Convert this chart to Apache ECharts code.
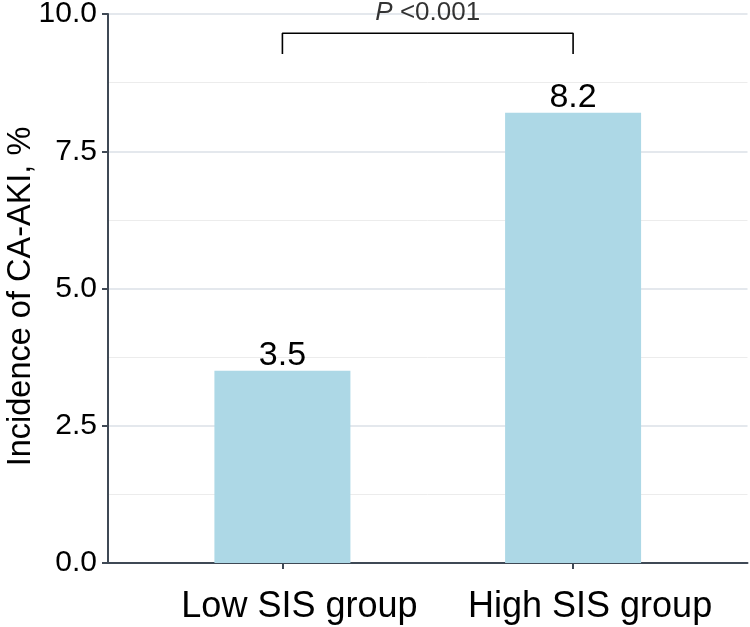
<!DOCTYPE html>
<html>
<head>
<meta charset="utf-8">
<script src="https://cdn.jsdelivr.net/npm/echarts@6/dist/echarts.min.js"></script>
<style>
html,body{margin:0;padding:0;background:#fff;}
#chart{width:750px;height:627px;}
</style>
</head>
<body>
<div id="chart"></div>
<script>
// Data
var categories = ['Low SIS group', 'High SIS group'];
var categoryPositions = [1, 2];
var incidence = [3.5, 8.2];
var yTicks = [0, 2.5, 5, 7.5, 10];
var yAxisTitle = 'Incidence of CA-AKI, %';
var pValueText = '<0.001';
var bracketX = [1, 1, 2, 2];
var bracketY = [9.27, 9.65, 9.65, 9.27];
var pLabelPos = [1.5, 10.02];

var FONT = '"Liberation Sans", Arial, Helvetica, sans-serif';
var AXIS_COLOR = '#3f4955';
var TEXT_COLOR = '#000';

var chart = echarts.init(document.getElementById('chart'), null, {renderer: 'canvas'});

var barData = categoryPositions.map(function (p, i) { return [p, incidence[i]]; });
var bracketData = bracketX.map(function (x, i) { return [x, bracketY[i]]; });

var option = {
  animation: false,
  backgroundColor: '#ffffff',
  textStyle: { fontFamily: FONT },
  grid: { left: 108, top: 14, right: 2.5, bottom: 64, containLabel: false, outerBoundsMode: 'none' },
  xAxis: {
    type: 'value',
    min: 0.4,
    max: 2.6,
    splitLine: { show: false },
    axisLine: { show: true, lineStyle: { color: AXIS_COLOR, width: 2 } },
    axisTick: { show: true, customValues: categoryPositions, length: 6, lineStyle: { color: AXIS_COLOR, width: 2 } },
    axisLabel: {
      customValues: categoryPositions,
      formatter: function (v) {
        var idx = categoryPositions.indexOf(Math.round(v));
        return idx >= 0 ? categories[idx] : '';
      },
      fontSize: 36,
      color: TEXT_COLOR,
      fontFamily: FONT,
      margin: 26,
      padding: [0, 0, 0, 34]
    }
  },
  yAxis: {
    type: 'value',
    min: yTicks[0],
    max: yTicks[yTicks.length - 1],
    interval: 2.5,
    name: yAxisTitle,
    nameLocation: 'middle',
    nameGap: 70,
    nameMoveOverlap: false,
    nameTextStyle: { fontSize: 32.5, color: TEXT_COLOR, fontFamily: FONT, padding: [0, 16, 0, 0] },
    axisLine: { show: true, lineStyle: { color: AXIS_COLOR, width: 2 } },
    axisTick: { show: true, length: 6, lineStyle: { color: AXIS_COLOR, width: 2 } },
    axisLabel: {
      fontSize: 30,
      color: TEXT_COLOR,
      fontFamily: FONT,
      margin: 11,
      formatter: function (v) { return v.toFixed(1); }
    },
    splitLine: { show: true, lineStyle: { color: '#dbe1e7', width: 1.5 } },
    minorTick: { show: false, splitNumber: 2 },
    minorSplitLine: { show: true, lineStyle: { color: '#ececec', width: 1 } }
  },
  series: [
    {
      type: 'bar',
      data: barData,
      barWidth: 136,
      itemStyle: { color: '#add8e6' },
      label: {
        show: true,
        position: 'top',
        distance: -2,
        fontSize: 34,
        color: TEXT_COLOR,
        fontFamily: FONT,
        formatter: function (p) { return p.value[1].toFixed(1); }
      },
      z: 2
    },
    {
      type: 'line',
      data: bracketData,
      symbol: 'none',
      clip: false,
      lineStyle: { color: '#000', width: 1.6 },
      silent: true,
      z: 5
    },
    {
      type: 'scatter',
      data: [pLabelPos],
      symbolSize: 0,
      clip: false,
      silent: true,
      label: {
        show: true,
        position: 'inside',
        formatter: '{i|P} ' + pValueText,
        fontSize: 26,
        color: TEXT_COLOR,
        fontFamily: FONT,
        rich: { i: { fontStyle: 'italic', fontSize: 26, color: TEXT_COLOR, fontFamily: FONT } }
      },
      z: 5
    }
  ]
};

chart.setOption(option);
</script>
</body>
</html>
